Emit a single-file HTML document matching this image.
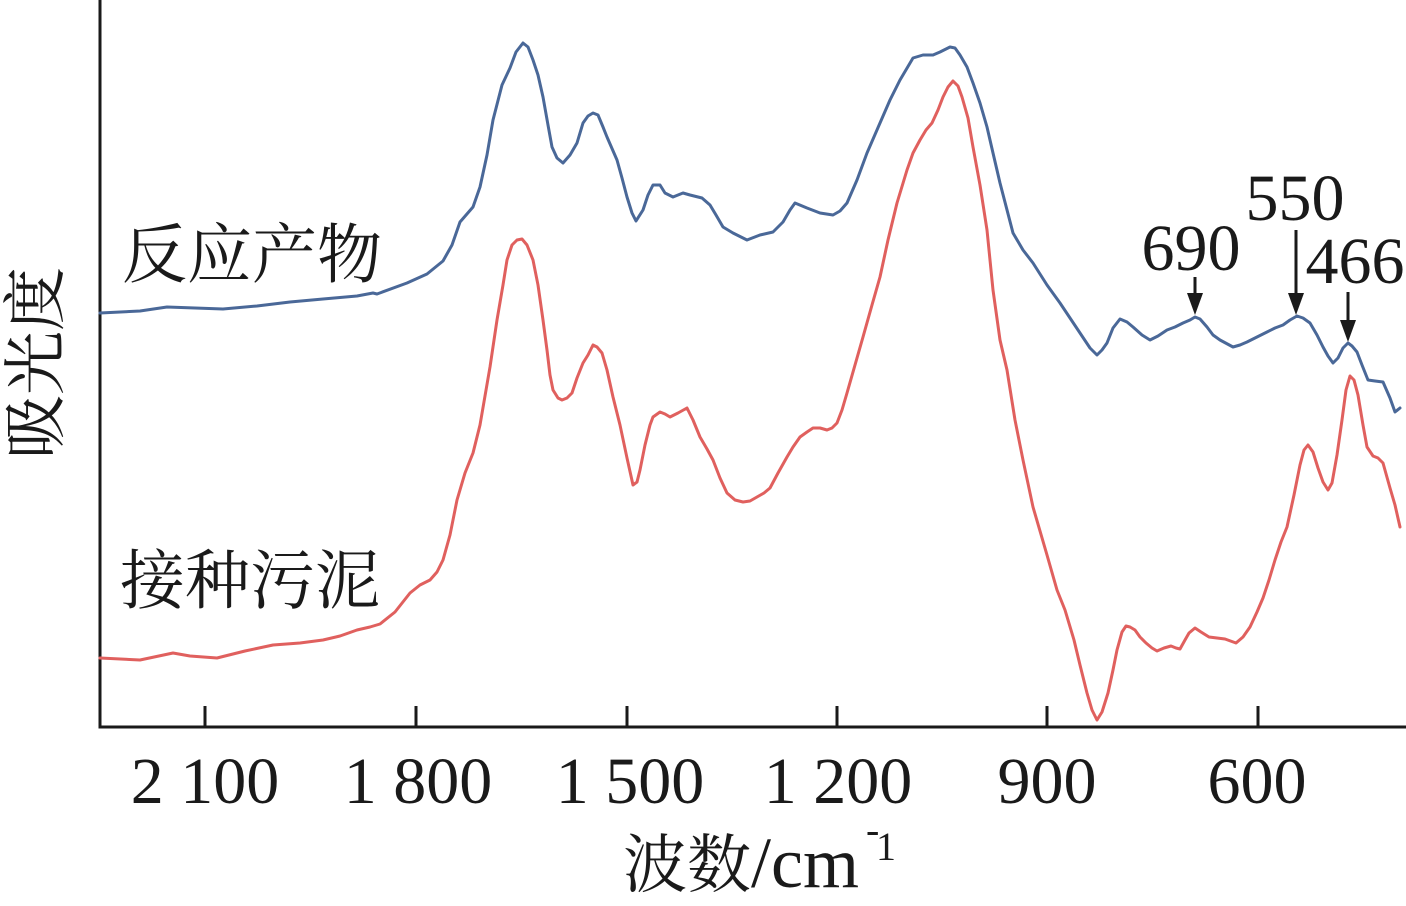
<!DOCTYPE html>
<html>
<head>
<meta charset="utf-8">
<style>
html,body{margin:0;padding:0;background:#fff;}
svg{display:block;}
.cjk{font-family:"Liberation Serif","Noto Serif CJK SC","Noto Sans CJK SC",serif;fill:#1a1a1a;}
.num{font-family:"Liberation Serif",serif;fill:#1a1a1a;}
</style>
</head>
<body>
<svg width="1406" height="906" viewBox="0 0 1406 906" xmlns="http://www.w3.org/2000/svg">
<rect width="1406" height="906" fill="#fff"/>
<!-- axes -->
<line x1="100" y1="0" x2="100" y2="728.5" stroke="#1a1a1a" stroke-width="3"/>
<line x1="98.5" y1="727" x2="1406" y2="727" stroke="#1a1a1a" stroke-width="3"/>
<g stroke="#1a1a1a" stroke-width="3">
<line x1="205" y1="706" x2="205" y2="727"/>
<line x1="416" y1="706" x2="416" y2="727"/>
<line x1="627" y1="706" x2="627" y2="727"/>
<line x1="837" y1="706" x2="837" y2="727"/>
<line x1="1047" y1="706" x2="1047" y2="727"/>
<line x1="1258" y1="706" x2="1258" y2="727"/>
</g>
<g class="num" font-size="66" text-anchor="middle">
<text x="205" y="803">2 100</text>
<text x="418" y="803">1 800</text>
<text x="630" y="803">1 500</text>
<text x="838" y="803">1 200</text>
<text x="1047" y="803">900</text>
<text x="1257" y="803">600</text>
</g>
<!-- axis titles -->
<text class="cjk" x="623" y="887" font-size="64">波数</text>
<text class="num" x="751" y="887" font-size="72">/cm</text>
<text class="num" x="866" y="843" font-size="40">-</text>
<text class="num" x="876" y="860" font-size="40">1</text>
<text class="cjk" font-size="64" text-anchor="middle" transform="translate(58,363) rotate(-90)">吸光度</text>
<!-- series labels -->
<text class="cjk" x="122" y="277" font-size="65">反应产物</text>
<text class="cjk" x="120" y="603" font-size="65">接种污泥</text>
<!-- blue series -->
<polyline fill="none" stroke="#4a6898" stroke-width="3" stroke-linejoin="round" stroke-linecap="round" points="100,313 140,311 167,307 223,309 257,306 290,302 323,299 357,296 373,293 377,294 407,283 427,274 443,261 452,245 460,222 473,207 480,187 487,155 493,120 502,85 510,68 516,52 523,43 528,47 533,60 538,75 543,97 548,125 552,147 557,158 563,163 570,155 577,143 583,123 588,116 593,113 598,115 603,127 607,137 617,160 622,178 627,197 632,213 636,221 643,210 648,195 653,185 660,185 665,193 673,197 683,193 690,195 702,198 710,205 716,215 723,227 733,233 747,240 760,235 773,232 783,222 790,210 795,203 807,208 820,213 833,215 840,211 847,203 857,180 867,153 880,123 890,100 900,80 913,58 923,55 933,55 940,52 950,47 955,48 960,55 967,67 973,83 980,103 987,127 993,153 1000,183 1013,233 1023,250 1033,263 1047,285 1060,303 1070,318 1080,333 1090,348 1097,355 1102,350 1107,343 1113,328 1120,319 1127,322 1133,327 1142,335 1150,340 1158,336 1167,330 1175,327 1183,323 1190,320 1195,317 1200,319 1207,327 1213,335 1220,340 1233,347 1240,345 1247,342 1257,337 1267,332 1275,328 1283,325 1290,320 1297,316 1303,318 1310,323 1317,335 1323,347 1328,356 1333,363 1338,358 1343,348 1348,343 1352,346 1357,352 1362,365 1368,380 1375,381 1383,382 1390,398 1395,412 1400,408"/>
<!-- red series -->
<polyline fill="none" stroke="#e0605e" stroke-width="3" stroke-linejoin="round" stroke-linecap="round" points="100,658 140,660 173,653 190,656 217,658 245,651 273,645 300,643 323,640 340,636 357,630 370,627 380,624 395,612 410,593 420,585 430,580 437,572 443,560 450,535 457,500 465,473 473,453 480,425 490,367 497,320 503,285 507,260 512,245 517,240 522,239 527,245 533,260 538,285 543,320 547,350 550,375 553,390 558,398 562,400 567,398 572,393 577,378 583,363 588,355 593,345 597,347 602,353 607,370 613,397 620,425 627,458 633,485 637,482 640,470 645,445 650,425 653,417 660,412 665,414 670,417 678,413 687,408 693,420 700,437 707,449 713,460 720,478 727,493 735,500 743,502 750,501 757,497 764,493 770,488 778,473 787,457 793,447 800,437 807,432 813,428 820,428 827,430 832,428 837,423 842,410 847,393 855,365 863,337 872,305 880,277 888,240 897,203 907,170 913,153 920,140 926,130 932,123 938,110 943,97 948,87 953,81 958,86 962,97 968,118 973,147 980,185 987,230 993,290 1000,340 1007,370 1015,420 1023,460 1033,507 1047,555 1057,590 1065,610 1074,640 1080,665 1087,693 1092,710 1097,720 1102,712 1108,693 1113,670 1117,650 1122,632 1126,626 1130,627 1135,630 1140,637 1146,643 1152,648 1157,651 1164,648 1171,646 1176,648 1180,649 1185,640 1189,633 1195,628 1201,632 1209,637 1217,638 1225,639 1236,643 1243,637 1250,627 1257,612 1263,598 1269,580 1275,560 1281,542 1287,527 1294,495 1300,465 1304,450 1308,445 1313,452 1318,468 1323,482 1328,490 1332,483 1337,455 1342,420 1346,390 1350,376 1354,380 1358,395 1363,425 1367,447 1373,456 1378,458 1383,463 1390,488 1395,505 1400,527"/>
<!-- annotations -->
<g class="num" font-size="66" text-anchor="middle">
<text x="1191" y="270">690</text>
<text x="1295" y="220">550</text>
<text x="1355" y="283">466</text>
</g>
<g stroke="#1a1a1a" stroke-width="3">
<line x1="1195" y1="277" x2="1195" y2="296"/>
<line x1="1296" y1="230" x2="1296" y2="296"/>
<line x1="1348" y1="292" x2="1348" y2="323"/>
</g>
<g fill="#1a1a1a">
<polygon points="1187,293 1203,293 1195,315"/>
<polygon points="1288,293 1304,293 1296,315"/>
<polygon points="1340,320 1356,320 1348,342"/>
</g>
</svg>
</body>
</html>
